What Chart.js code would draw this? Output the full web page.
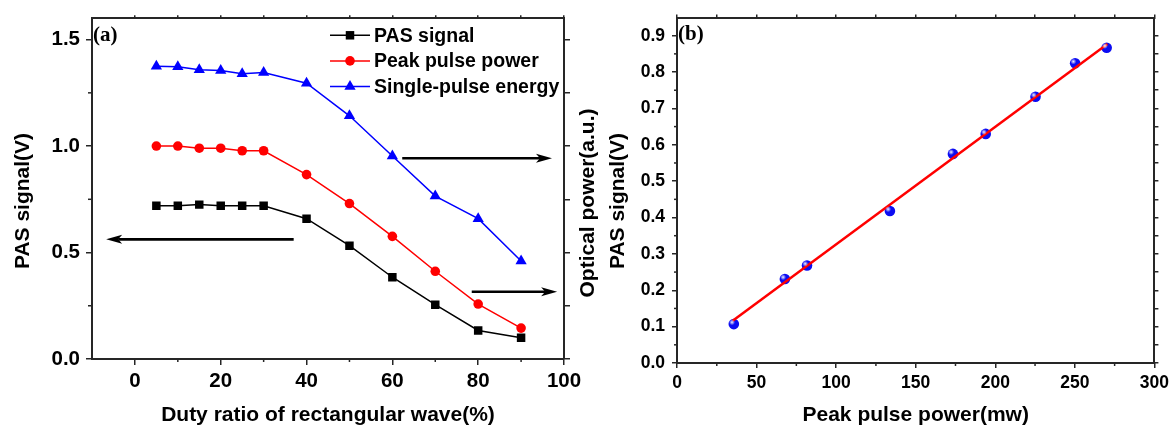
<!DOCTYPE html>
<html lang="en">
<head>
  <meta charset="UTF-8">
  <title>PAS signal vs duty ratio and peak pulse power</title>
  <style>
    body { margin: 0; background: #fff; }
    canvas { position: absolute; top: 0; }
    #chartA { left: 0; }
    #chartB { left: 600px; }
  </style>
</head>
<body>
  <canvas id="chartA" width="600" height="427"></canvas>
  <canvas id="chartB" width="574" height="427"></canvas>

  <script src="https://cdn.jsdelivr.net/npm/chart.js"></script>
  <script>
    // (a) signals vs duty ratio of the rectangular wave
    const dutyRatio = [5, 10, 15, 20, 25, 30, 40, 50, 60, 70, 80, 90];
    const pasSignal = [0.72, 0.72, 0.725, 0.72, 0.72, 0.72, 0.659, 0.532, 0.384, 0.255, 0.134, 0.10];
    const peakPower = [1.0, 1.0, 0.99, 0.99, 0.978, 0.978, 0.866, 0.73, 0.576, 0.412, 0.258, 0.145];
    const pulseEnergy = [1.375, 1.373, 1.358, 1.355, 1.34, 1.345, 1.295, 1.142, 0.953, 0.765, 0.659, 0.46];
    const xTicksA = [0, 20, 40, 60, 80, 100];
    const xMinorA = [10, 30, 50, 70, 90];
    const xTopA = [0, 10, 20, 30, 40, 50, 60, 70, 80, 90, 100];
    const yTicksA = [0, 0.5, 1.0, 1.5];
    const yMinorA = [0.25, 0.75, 1.25];
    const yRightA = [0, 0.25, 0.5, 0.75, 1.0, 1.25, 1.5];
    // arrows as [x start, y start, x tip, y tip] in data units
    const arrowsA = [
      [37, 0.562, -6.7, 0.562],
      [62.3, 0.943, 97.2, 0.943],
      [78.5, 0.316, 98.4, 0.316]
    ];

    // (b) PAS signal vs peak pulse power
    const peakPowerMw = [35.7, 67.8, 81.7, 133.8, 173.4, 194, 225.3, 250.2, 270];
    const pasSignalB = [0.107, 0.231, 0.268, 0.418, 0.575, 0.63, 0.732, 0.824, 0.867];
    const fitPowerMw = [35, 270.5];
    const fitSignal = [0.116, 0.877];
    const xTicksB = [0, 50, 100, 150, 200, 250, 300];
    const xMinorB = [25, 75, 125, 175, 225, 275];
    const xTopB = [0, 25, 50, 75, 100, 125, 150, 175, 200, 225, 250, 275, 300];
    const yTicksB = [0, 0.1, 0.2, 0.3, 0.4, 0.5, 0.6, 0.7, 0.8, 0.9];
    const yMinorB = [0.05, 0.15, 0.25, 0.35, 0.45, 0.55, 0.65, 0.75, 0.85];

    const sans = "'Liberation Sans', Arial, sans-serif";
    const axisColor = '#262626';

    Chart.defaults.font.family = sans;
    Chart.defaults.font.weight = 'bold';
    Chart.defaults.color = '#000';
    Chart.defaults.animation = false;

    function pts(xs, ys) {
      return xs.map((x, i) => ({ x: x, y: ys[i] }));
    }

    function fixedTicks(list) {
      return function (scale) { scale.ticks = list.map(v => ({ value: v })); };
    }

    function sized(key, px) {
      return function (scale) { scale[key] = px; };
    }

    // an axis with tick marks only (the mirrored top / right frame)
    function frameAxis(position, min, max, list, len, size) {
      return {
        type: 'linear', position: position, min: min, max: max,
        afterBuildTicks: fixedTicks(list),
        afterFit: sized(position === 'top' ? 'height' : 'width', size),
        ticks: { display: false },
        grid: { drawOnChartArea: false, tickLength: len, color: axisColor, lineWidth: 1.5 },
        border: { color: axisColor, width: 2 }
      };
    }

    // short unlabelled ticks between the labelled ones
    const minorTicks = {
      id: 'minorTicks',
      afterDraw(chart, args, opts) {
        const ctx = chart.ctx;
        ctx.save();
        ctx.strokeStyle = axisColor;
        ctx.lineWidth = 1.5;
        (opts.list || []).forEach(m => {
          const s = chart.scales[m.axis];
          m.values.forEach(v => {
            const p = s.getPixelForValue(v);
            ctx.beginPath();
            if (s.position === 'left') { ctx.moveTo(s.right - m.len, p); ctx.lineTo(s.right, p); }
            else if (s.position === 'right') { ctx.moveTo(s.left, p); ctx.lineTo(s.left + m.len, p); }
            else if (s.position === 'bottom') { ctx.moveTo(p, s.top); ctx.lineTo(p, s.top + m.len); }
            else { ctx.moveTo(p, s.bottom - m.len); ctx.lineTo(p, s.bottom); }
            ctx.stroke();
          });
        });
        ctx.restore();
      }
    };

    // vertical titles reading bottom to top, plus the panel tag
    const panelText = {
      id: 'panelText',
      afterDraw(chart, args, opts) {
        const ctx = chart.ctx, a = chart.chartArea;
        ctx.save();
        ctx.fillStyle = '#000';
        ctx.textAlign = 'center';
        ctx.textBaseline = 'middle';
        ctx.font = 'bold 21px ' + sans;
        (opts.titles || []).forEach(t => {
          ctx.save();
          ctx.translate(t.x, t.y);
          ctx.rotate(-Math.PI / 2);
          ctx.fillText(t.text, 0, 0);
          ctx.restore();
        });
        ctx.textAlign = 'left';
        ctx.font = "bold 21px 'Liberation Serif', 'Times New Roman', serif";
        ctx.fillText(opts.tag, a.left + 1, a.top + 17);
        ctx.restore();
      }
    };

    function drawMarker(ctx, style, x, y, r) {
      ctx.beginPath();
      if (style === 'rect') {
        const h = Math.SQRT1_2 * r;
        ctx.rect(x - h, y - h, 2 * h, 2 * h);
      } else if (style === 'triangle') {
        let rad = 0;
        ctx.moveTo(x + Math.sin(rad) * r, y - Math.cos(rad) * r);
        rad += 2 * Math.PI / 3;
        ctx.lineTo(x + Math.sin(rad) * r, y - Math.cos(rad) * r);
        rad += 2 * Math.PI / 3;
        ctx.lineTo(x + Math.sin(rad) * r, y - Math.cos(rad) * r);
        ctx.closePath();
      } else {
        ctx.arc(x, y, r, 0, 2 * Math.PI);
      }
      ctx.fill();
    }

    // legend drawn inside the plot, line + marker + label
    const insideLegend = {
      id: 'insideLegend',
      afterDatasetsDraw(chart, args, opts) {
        const ctx = chart.ctx, a = chart.chartArea;
        const x0 = a.left + opts.dx;
        ctx.save();
        ctx.font = 'bold 19.5px ' + sans;
        ctx.textBaseline = 'middle';
        chart.data.datasets.forEach((ds, i) => {
          const y = a.top + opts.dy + i * opts.gap;
          ctx.strokeStyle = ds.borderColor;
          ctx.lineWidth = ds.borderWidth;
          ctx.beginPath();
          ctx.moveTo(x0, y);
          ctx.lineTo(x0 + 40, y);
          ctx.stroke();
          ctx.fillStyle = ds.backgroundColor;
          drawMarker(ctx, ds.pointStyle, x0 + 20, y, ds.pointRadius);
          ctx.fillStyle = '#000';
          ctx.fillText(ds.label, x0 + 44, y + 1);
        });
        ctx.restore();
      }
    };

    const arrows = {
      id: 'arrows',
      afterDatasetsDraw(chart, args, opts) {
        const ctx = chart.ctx, xs = chart.scales.x, ys = chart.scales.y;
        ctx.save();
        ctx.strokeStyle = '#000';
        ctx.fillStyle = '#000';
        ctx.lineWidth = 2.6;
        (opts.list || []).forEach(r => {
          const x0 = xs.getPixelForValue(r[0]), y0 = ys.getPixelForValue(r[1]);
          const x1 = xs.getPixelForValue(r[2]), y1 = ys.getPixelForValue(r[3]);
          const c = Math.cos(r[2] > r[0] ? 0 : Math.PI), s = 0;
          const bx = x1 - 16 * c, by = y1;
          ctx.beginPath();
          ctx.moveTo(x0, y0);
          ctx.lineTo(bx + 4 * c, by);
          ctx.stroke();
          ctx.beginPath();
          ctx.moveTo(x1, y1);
          ctx.lineTo(bx, by + 4.5);
          ctx.lineTo(bx + 4 * c, by);
          ctx.lineTo(bx, by - 4.5);
          ctx.closePath();
          ctx.fill();
        });
        ctx.restore();
      }
    };

    // little white glint so the points look like spheres
    const glint = {
      id: 'glint',
      afterDatasetsDraw(chart) {
        const ctx = chart.ctx;
        const meta = chart.getDatasetMeta(0);
        ctx.save();
        meta.data.forEach(p => {
          const g = ctx.createRadialGradient(p.x - 1.8, p.y - 1.8, 0, p.x - 1.8, p.y - 1.8, 3);
          g.addColorStop(0, 'rgba(255,255,255,0.95)');
          g.addColorStop(1, 'rgba(255,255,255,0)');
          ctx.fillStyle = g;
          ctx.beginPath();
          ctx.arc(p.x - 1.8, p.y - 1.8, 3, 0, 2 * Math.PI);
          ctx.fill();
        });
        ctx.restore();
      }
    };

    // Panel (a)
    new Chart(document.getElementById('chartA'), {
      type: 'line',
      data: {
        datasets: [
          {
            label: 'PAS signal', data: pts(dutyRatio, pasSignal),
            borderColor: '#000', backgroundColor: '#000', borderWidth: 1.5,
            pointStyle: 'rect', pointRadius: 6, pointBorderWidth: 0
          },
          {
            label: 'Peak pulse power', data: pts(dutyRatio, peakPower),
            borderColor: '#ff0000', backgroundColor: '#ff0000', borderWidth: 1.5,
            pointStyle: 'circle', pointRadius: 4.8, pointBorderWidth: 0
          },
          {
            label: 'Single-pulse energy', data: pts(dutyRatio, pulseEnergy),
            borderColor: '#0000ff', backgroundColor: '#0000ff', borderWidth: 1.5,
            pointStyle: 'triangle', pointRadius: 6.5, pointBorderWidth: 0
          }
        ]
      },
      options: {
        responsive: false,
        layout: { padding: 0 },
        scales: {
          x: {
            type: 'linear', position: 'bottom', min: -10, max: 100,
            afterBuildTicks: fixedTicks(xTicksA),
            afterFit: sized('height', 68),
            ticks: { font: { size: 20.5, weight: 'bold' }, padding: 4, maxRotation: 0 },
            grid: { drawOnChartArea: false, tickLength: 6, color: axisColor, lineWidth: 1.5 },
            border: { color: axisColor, width: 2 },
            title: {
              display: true, text: 'Duty ratio of rectangular wave(%)',
              font: { size: 21, weight: 'bold', lineHeight: 1 }, padding: { top: 0, bottom: 1 }
            }
          },
          x2: frameAxis('top', -10, 100, xTopA, 3, 15),
          y: {
            type: 'linear', position: 'left', min: 0, max: 1.6,
            afterBuildTicks: fixedTicks(yTicksA),
            afterFit: sized('width', 92),
            ticks: { font: { size: 20.5, weight: 'bold' }, padding: 6, callback: v => v.toFixed(1) },
            grid: { drawOnChartArea: false, tickLength: 6, color: axisColor, lineWidth: 1.5 },
            border: { color: axisColor, width: 2 }
          },
          y2: frameAxis('right', 0, 1.6, yRightA, 6, 36)
        },
        plugins: {
          legend: { display: false },
          tooltip: { enabled: false },
          minorTicks: { list: [{ axis: 'x', values: xMinorA, len: 3 }, { axis: 'y', values: yMinorA, len: 4 }] },
          panelText: {
            tag: '(a)',
            titles: [{ text: 'PAS signal(V)', x: 23, y: 201 }, { text: 'Optical power(a.u.)', x: 588, y: 203 }]
          },
          insideLegend: { dx: 238, dy: 17, gap: 25.6 },
          arrows: { list: arrowsA }
        }
      },
      plugins: [minorTicks, panelText, insideLegend, arrows]
    });

    // Panel (b)
    new Chart(document.getElementById('chartB'), {
      type: 'line',
      data: {
        datasets: [
          {
            label: 'PAS signal', data: pts(peakPowerMw, pasSignalB), order: 1,
            showLine: false, pointRadius: 5.3, pointBorderWidth: 0,
            pointBackgroundColor: '#0c0cf2'
          },
          {
            label: 'Linear fit', data: pts(fitPowerMw, fitSignal), order: 0,
            borderColor: '#ff0000', borderWidth: 2.5, pointRadius: 0
          }
        ]
      },
      options: {
        responsive: false,
        layout: { padding: 0 },
        scales: {
          x: {
            type: 'linear', position: 'bottom', min: 0, max: 300,
            afterBuildTicks: fixedTicks(xTicksB),
            afterFit: sized('height', 64),
            ticks: { font: { size: 17.5, weight: 'bold' }, padding: 5, maxRotation: 0 },
            grid: { drawOnChartArea: false, tickLength: 5, color: axisColor, lineWidth: 1.5 },
            border: { color: axisColor, width: 2 },
            title: {
              display: true, text: 'Peak pulse power(mw)',
              font: { size: 21, weight: 'bold', lineHeight: 1 }, padding: { top: 0, bottom: 1 }
            }
          },
          x2: frameAxis('top', 0, 300, xTopB, 3, 15),
          y: {
            type: 'linear', position: 'left', min: 0, max: 0.95,
            afterBuildTicks: fixedTicks(yTicksB),
            afterFit: sized('width', 77),
            ticks: { font: { size: 17.5, weight: 'bold' }, padding: 7, callback: v => v.toFixed(1) },
            grid: { drawOnChartArea: false, tickLength: 5, color: axisColor, lineWidth: 1.5 },
            border: { color: axisColor, width: 2 }
          },
          y2: frameAxis('right', 0, 0.95, yTicksB.concat(yMinorB).sort((p, q) => p - q), 4, 15)
        },
        plugins: {
          legend: { display: false },
          tooltip: { enabled: false },
          minorTicks: { list: [{ axis: 'x', values: xMinorB, len: 3 }, { axis: 'y', values: yMinorB, len: 3 }] },
          panelText: { tag: '(b)', titles: [{ text: 'PAS signal(V)', x: 18, y: 201 }] }
        }
      },
      plugins: [minorTicks, panelText, glint]
    });
  </script>
</body>
</html>
